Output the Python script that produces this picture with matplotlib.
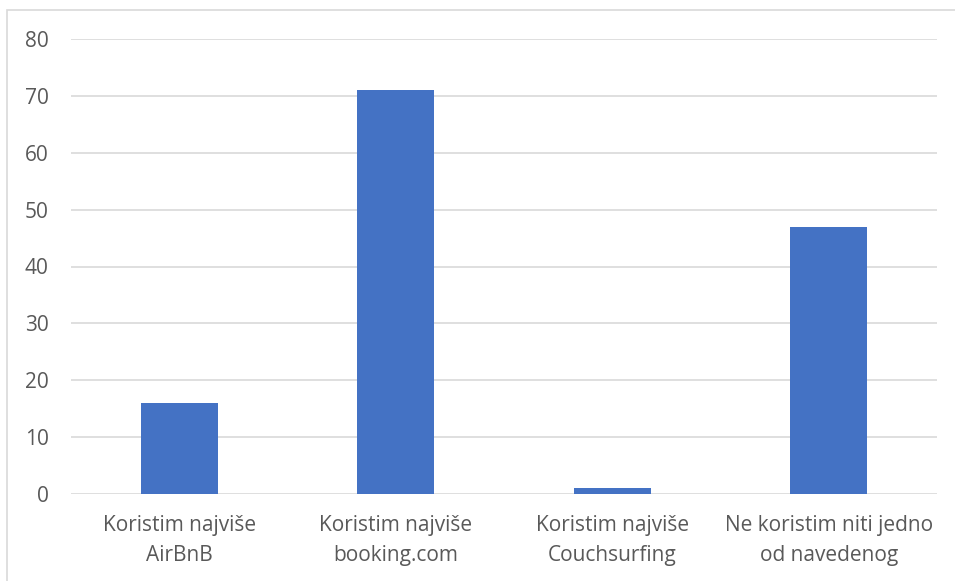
import matplotlib
matplotlib.use('Agg')
import matplotlib.pyplot as plt
from matplotlib.patches import Rectangle

# Data
categories = ['Koristim najviše\nAirBnB', 'Koristim najviše\nbooking.com',
              'Koristim najviše\nCouchsurfing', 'Ne koristim niti jedno\nod navedenog']
values = [16, 71, 1, 47]
y_ticks = [0, 10, 20, 30, 40, 50, 60, 70, 80]

plt.rcParams['font.family'] = ['Open Sans', 'DejaVu Sans']

fig = plt.figure(figsize=(9.55, 5.81), dpi=100)
ax = fig.add_axes([71/955, 1 - 494/581, (937 - 71)/955, (494 - 39)/581])

x = range(len(categories))
ax.bar(x, values, width=0.355, color='#4472c4', zorder=3)

ax.set_xlim(-0.5, len(categories) - 0.5)
ax.set_ylim(0, 80)
ax.set_yticks(y_ticks)
ax.set_xticks(list(x))
ax.set_xticklabels(categories, linespacing=1.6)
ax.grid(axis='y', color='#d9d9d9', linewidth=1.2, zorder=0)
for s in ax.spines.values():
    s.set_visible(False)
ax.tick_params(length=0, labelsize=15, colors='#595959')
ax.tick_params(axis='y', pad=16)
ax.tick_params(axis='x', pad=15)

# outer chart border (cropped on right and bottom)
fig.patches.append(Rectangle((7/955, -0.1), 1.2, 1 - 10/581 + 0.1,
                             transform=fig.transFigure, fill=False,
                             edgecolor='#d9d9d9', linewidth=1.2))

fig.savefig('out.png', dpi=100)
